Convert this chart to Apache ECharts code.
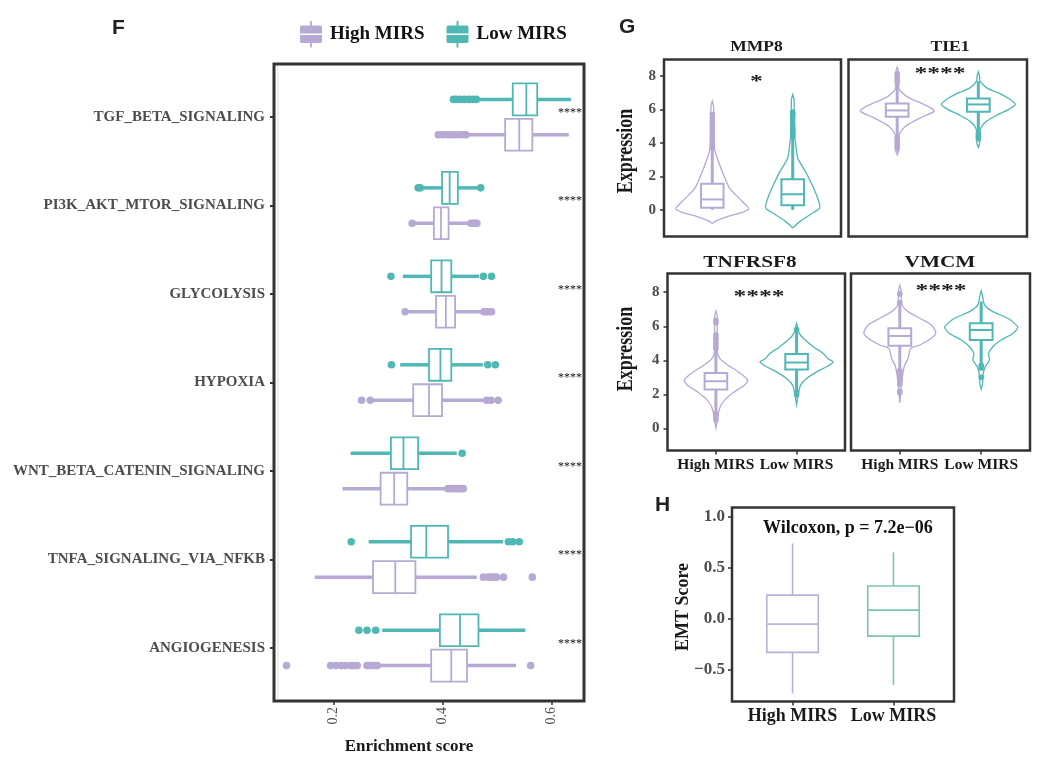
<!DOCTYPE html>
<html><head><meta charset="utf-8">
<script src="https://cdn.jsdelivr.net/npm/echarts@6/dist/echarts.min.js"></script>
<style>html,body{margin:0;padding:0;background:#fff}#c{width:1046px;height:762px}</style>
</head><body><div id="c"></div>
<script>
// ================= DATA =================
const groups = ['High MIRS', 'Low MIRS'];

// ---- Panel F ----
const fCategories = ['TGF_BETA_SIGNALING', 'PI3K_AKT_MTOR_SIGNALING', 'GLYCOLYSIS', 'HYPOXIA',
  'WNT_BETA_CATENIN_SIGNALING', 'TNFA_SIGNALING_VIA_NFKB', 'ANGIOGENESIS'];
const fXTicks = [0.2, 0.4, 0.6];
// [lower whisker, Q1, median, Q3, upper whisker], categories top to bottom
const fLowStats = [
  [0.466, 0.529, 0.554, 0.574, 0.636],
  [0.362, 0.399, 0.413, 0.428, 0.465],
  [0.327, 0.379, 0.398, 0.416, 0.467],
  [0.322, 0.375, 0.396, 0.416, 0.474],
  [0.231, 0.305, 0.328, 0.355, 0.426],
  [0.264, 0.342, 0.370, 0.410, 0.511],
  [0.289, 0.395, 0.432, 0.466, 0.552]
];
const fHighStats = [
  [0.445, 0.515, 0.541, 0.565, 0.632],
  [0.347, 0.384, 0.397, 0.411, 0.451],
  [0.334, 0.388, 0.406, 0.423, 0.475],
  [0.267, 0.346, 0.375, 0.399, 0.475],
  [0.216, 0.286, 0.311, 0.335, 0.408],
  [0.165, 0.272, 0.313, 0.350, 0.463],
  [0.283, 0.379, 0.416, 0.445, 0.535]
];
const fLowOutliers = [
  [0.420, 0.425, 0.432, 0.440, 0.448, 0.455, 0.462],
  [0.355, 0.359, 0.470],
  [0.305, 0.475, 0.490],
  [0.306, 0.483, 0.497],
  [0.436],
  [0.232, 0.521, 0.529, 0.541],
  [0.246, 0.261, 0.277]
];
const fHighOutliers = [
  [0.392, 0.400, 0.408, 0.415, 0.422, 0.430, 0.437, 0.443],
  [0.344, 0.452, 0.456, 0.460, 0.463],
  [0.331, 0.476, 0.480, 0.485, 0.490],
  [0.251, 0.267, 0.481, 0.489, 0.502],
  [0.410, 0.416, 0.422, 0.428, 0.433, 0.438],
  [0.475, 0.484, 0.490, 0.496, 0.499, 0.512, 0.565],
  [0.113, 0.194, 0.204, 0.214, 0.221, 0.231, 0.236, 0.243, 0.261, 0.267, 0.273, 0.280, 0.562]
];
const fSignif = ['****', '****', '****', '****', '****', '****', '****'];

// ---- Panel G ----
const gGenes = ['MMP8', 'TIE1', 'TNFRSF8', 'VMCM'];
const gYTicks = [0, 2, 4, 6, 8];
const gSignif = ['*', '****', '****', '****'];
// violin outlines: [expression, half width in group units]
const mmp8ViolinHigh = [[6.5,0],[6.2,0.016],[4.0,0.018],[3.5,0.035],[2.7,0.091],[1.9,0.157],[1.3,0.215],[0.7,0.331],[0.3,0.414],[0.08,0.455],[-0.12,0.393],[-0.38,0.207],[-0.68,0.041],[-0.82,0]];
const mmp8ViolinLow = [[6.9,0],[6.6,0.016],[4.5,0.02],[4.1,0.033],[3.1,0.062],[2.3,0.157],[1.5,0.24],[0.9,0.294],[0.3,0.335],[0.08,0.331],[-0.28,0.219],[-0.68,0.095],[-1.08,0]];
const tie1ViolinHigh = [[8.54,0],[8.3,0.016],[7.3,0.02],[7.1,0.041],[6.7,0.145],[6.4,0.29],[6.1,0.414],[5.9,0.455],[5.6,0.331],[5.31,0.207],[5.0,0.103],[4.6,0.033],[4.2,0.018],[3.5,0.016],[3.3,0]];
const tie1ViolinLow = [[8.26,0],[8.0,0.016],[7.7,0.021],[7.3,0.103],[6.9,0.29],[6.6,0.393],[6.31,0.455],[6.0,0.372],[5.71,0.248],[5.31,0.103],[4.91,0.033],[4.5,0.018],[3.95,0.016],[3.75,0]];
const tnfrsf8ViolinHigh = [[6.9,0],[6.6,0.016],[4.5,0.018],[4.1,0.05],[3.72,0.145],[3.42,0.248],[3.13,0.331],[2.83,0.393],[2.54,0.352],[2.14,0.227],[1.75,0.124],[1.36,0.062],[0.96,0.033],[0.5,0.018],[0.02,0]];
const tnfrsf8ViolinLow = [[6.17,0],[5.9,0.016],[5.58,0.033],[5.29,0.083],[4.8,0.207],[4.4,0.331],[4.07,0.393],[3.91,0.455],[3.62,0.372],[3.32,0.248],[2.93,0.124],[2.54,0.05],[2.0,0.02],[1.39,0]];
const vmcmViolinHigh = [[8.4,0],[8.1,0.016],[7.26,0.025],[6.86,0.102],[6.47,0.245],[6.08,0.389],[5.62,0.442],[5.29,0.389],[4.9,0.245],[4.7,0.135],[4.1,0.1],[3.72,0.06],[3.32,0.04],[2.5,0.018],[1.49,0]];
const vmcmViolinLow = [[8.08,0],[7.8,0.016],[7.26,0.041],[6.86,0.143],[6.47,0.327],[6.08,0.429],[5.92,0.45],[5.58,0.389],[5.19,0.245],[4.8,0.143],[4.4,0.09],[4.01,0.102],[3.62,0.049],[3.22,0.025],[2.6,0.016],[2.3,0]];
// box stats per gene: [lower whisker, Q1, median, Q3, upper whisker]
const gBoxHigh = [
  [0.0, 0.12, 0.62, 1.56, 3.6],
  [4.41, 5.57, 5.95, 6.37, 7.5],
  [0.95, 2.28, 2.77, 3.26, 4.6],
  [3.52, 4.86, 5.43, 5.88, 7.35]
];
const gBoxLow = [
  [0.0, 0.27, 0.93, 1.83, 4.3],
  [4.71, 5.87, 6.31, 6.66, 7.7],
  [2.24, 3.46, 3.87, 4.37, 5.68],
  [3.81, 5.19, 5.78, 6.17, 7.45]
];
const gOutHigh = [
  [3.7, 3.85, 4.0, 4.15, 4.3, 4.5, 4.7, 4.9, 5.1, 5.3, 5.5, 5.7],
  [7.6, 7.8, 8.0, 8.15, 4.3, 4.1, 3.95, 3.8, 3.65],
  [4.7, 4.85, 5.0, 5.2, 5.35, 5.5, 6.2, 6.35, 0.85, 0.7, 0.5],
  [7.4, 7.9, 3.4, 3.25, 3.1, 3.0, 2.9, 2.75, 2.6, 2.2, 2.1]
];
const gOutLow = [
  [4.4, 4.5, 4.6, 4.7, 4.8, 4.9, 5.0, 5.2, 5.4, 5.6, 5.75, 5.85],
  [4.55, 4.4, 4.25],
  [5.8, 2.1, 1.98],
  [3.7, 3.55, 3.0]
];

// ---- Panel H ----
const hStats = [
  [-0.731, -0.329, -0.052, 0.232, 0.739],
  [-0.647, -0.170, 0.085, 0.321, 0.651]
];
const hYTicks = [-0.5, 0, 0.5, 1.0];
const hTest = 'Wilcoxon, p = 7.2e\u221206';

// ================= STYLE =================
const PURPLE = '#B6A9D4', TEAL = '#4FB8B5', H_HIGH = '#B9B1DA', H_LOW = '#7CC6A7';
const FRAME = '#333333';
const SERIF = '"Liberation Serif", "Times New Roman", serif';
const SANS = '"Liberation Sans", Arial, sans-serif';

const gViolins = [
  [mmp8ViolinHigh, mmp8ViolinLow],
  [tie1ViolinHigh, tie1ViolinLow],
  [tnfrsf8ViolinHigh, tnfrsf8ViolinLow],
  [vmcmViolinHigh, vmcmViolinLow]
];

const grids = [], xAxes = [], yAxes = [], series = [];
function addGrid(g, x, y) {
  grids.push(Object.assign({show: true, borderColor: FRAME, borderWidth: 2.5,
    backgroundColor: 'rgba(0,0,0,0)', containLabel: false, outerBoundsMode: 'none'}, g));
  xAxes.push(Object.assign({gridIndex: grids.length - 1, position: 'bottom', splitLine: {show: false}}, x));
  yAxes.push(Object.assign({gridIndex: grids.length - 1, position: 'left', splitLine: {show: false}}, y));
  return grids.length - 1;
}
const NO_LINE = {show: false, onZero: false};

// ---------- Panel F ----------
const nCat = fCategories.length;
const fCatValues = fCategories.map((c, i) => nCat - i);
const F_OFF = 0.2, F_HALF = 0.18;
const fIdx = addGrid(
  {left: 274, top: 64, width: 310, height: 637, borderWidth: 3},
  {type: 'value', min: 0.09, max: 0.66, axisLine: NO_LINE,
    axisTick: {show: true, customValues: fXTicks, length: 4, lineStyle: {color: FRAME, width: 1.5}},
    axisLabel: {customValues: fXTicks, rotate: 90, formatter: v => Number(v).toFixed(1),
      color: '#4d4d4d', fontFamily: SERIF, fontSize: 14, margin: 6}},
  {type: 'value', min: 0.4, max: nCat + 0.6, axisLine: NO_LINE,
    axisTick: {show: true, customValues: fCatValues, length: 4, lineStyle: {color: FRAME, width: 2}},
    axisLabel: {customValues: fCatValues, formatter: v => fCategories[nCat - Math.round(v)],
      color: '#4d4d4d', fontFamily: SERIF, fontWeight: 'bold', fontSize: 15, margin: 9}}
);

function fBoxSeries(name, stats, offset, color) {
  return {
    type: 'custom', name, xAxisIndex: fIdx, yAxisIndex: fIdx, itemStyle: {color},
    data: stats.map((s, i) => [nCat - i].concat(s)),
    encode: {x: [1, 2, 3, 4, 5], y: 0},
    renderItem(params, api) {
      const y = api.value(0) + offset;
      const v = [1, 2, 3, 4, 5].map(d => api.value(d));
      const p = v.map(x => api.coord([x, y]));
      const top = api.coord([v[1], y + F_HALF])[1];
      const bot = api.coord([v[1], y - F_HALF])[1];
      const cy = p[0][1];
      return {type: 'group', children: [
        {type: 'line', shape: {x1: p[0][0], y1: cy, x2: p[1][0], y2: cy}, style: {stroke: color, lineWidth: 3.5}},
        {type: 'line', shape: {x1: p[3][0], y1: cy, x2: p[4][0], y2: cy}, style: {stroke: color, lineWidth: 3.5}},
        {type: 'rect', shape: {x: p[1][0], y: top, width: p[3][0] - p[1][0], height: bot - top},
          style: {fill: '#fff', stroke: color, lineWidth: 1.8}},
        {type: 'line', shape: {x1: p[2][0], y1: top, x2: p[2][0], y2: bot}, style: {stroke: color, lineWidth: 1.8}}
      ]};
    }
  };
}
function fOutSeries(name, outs, offset, color) {
  const data = [];
  outs.forEach((arr, i) => arr.forEach(v => data.push([v, nCat - i])));
  return {
    type: 'custom', name, xAxisIndex: fIdx, yAxisIndex: fIdx, itemStyle: {color},
    data, encode: {x: 0, y: 1},
    renderItem(params, api) {
      const p = api.coord([api.value(0), api.value(1) + offset]);
      return {type: 'circle', shape: {cx: p[0], cy: p[1], r: 3.8}, style: {fill: color}};
    }
  };
}
series.push(fBoxSeries(groups[1], fLowStats, F_OFF, TEAL));
series.push(fBoxSeries(groups[0], fHighStats, -F_OFF, PURPLE));
series.push(fOutSeries(groups[1], fLowOutliers, F_OFF, TEAL));
series.push(fOutSeries(groups[0], fHighOutliers, -F_OFF, PURPLE));
series.push({
  type: 'custom', name: 'signif', xAxisIndex: fIdx, yAxisIndex: fIdx,
  data: fSignif.map((s, i) => [0.612, nCat - i]), encode: {x: 0, y: 1},
  renderItem(params, api) {
    const p = api.coord([api.value(0), api.value(1) + 0.05]);
    return {type: 'text', x: p[0], y: p[1], style: {text: fSignif[params.dataIndex],
      font: '12px ' + SERIF, fill: '#111', align: 'left', verticalAlign: 'middle'}};
  }
});

// ---------- Panel G ----------
const gLayout = [
  {grid: {left: 664, top: 59.5, width: 177, height: 177}, yMin: -1.6, yMax: 9.0, yShow: true, xShow: false},
  {grid: {left: 848.5, top: 59.5, width: 178.5, height: 177}, yMin: -1.6, yMax: 9.0, yShow: false, xShow: false},
  {grid: {left: 667.5, top: 273.5, width: 177.5, height: 177}, yMin: -1.3, yMax: 9.1, yShow: true, xShow: true},
  {grid: {left: 851, top: 273.5, width: 179, height: 177}, yMin: -1.3, yMax: 9.1, yShow: false, xShow: true}
];
const G_BOX_HALF = 0.14;
const grpPos = [1, 2];
gLayout.forEach((L, gi) => {
  const idx = addGrid(L.grid,
    {type: 'value', min: 0.4, max: 2.6, show: L.xShow, axisLine: NO_LINE,
      axisTick: {show: true, customValues: grpPos, length: 4, lineStyle: {color: FRAME, width: 1.5}},
      axisLabel: {customValues: grpPos, formatter: v => groups[Math.round(v) - 1], color: '#1a1a1a',
        fontFamily: SERIF, fontWeight: 'bold', fontSize: 15.5, margin: 6}},
    {type: 'value', min: L.yMin, max: L.yMax, show: L.yShow, axisLine: NO_LINE,
      axisTick: {show: true, customValues: gYTicks, length: 4, lineStyle: {color: FRAME, width: 1.5}},
      axisLabel: {customValues: gYTicks, color: '#4d4d4d', fontFamily: SERIF, fontWeight: 'bold',
        fontSize: 15, margin: 8}}
  );
  [[gBoxHigh, gOutHigh, PURPLE], [gBoxLow, gOutLow, TEAL]].forEach((cfg, k) => {
    const stats = cfg[0][gi], outs = cfg[1][gi], color = cfg[2], violin = gViolins[gi][k];
    series.push({
      type: 'custom', name: gGenes[gi] + ' ' + groups[k], xAxisIndex: idx, yAxisIndex: idx,
      itemStyle: {color}, data: [[grpPos[k]].concat(stats)], encode: {x: 0, y: [1, 2, 3, 4, 5]},
      renderItem(params, api) {
        const x = api.value(0);
        const v = [1, 2, 3, 4, 5].map(d => api.value(d));
        const left = violin.map(([y, w]) => api.coord([x - w, y]));
        const right = violin.slice().reverse().map(([y, w]) => api.coord([x + w, y]));
        const pts = left.concat(right);
        const cx = api.coord([x, 0])[0];
        const xl = api.coord([x - G_BOX_HALF, 0])[0], xr = api.coord([x + G_BOX_HALF, 0])[0];
        const py = v.map(val => api.coord([x, val])[1]);
        const children = [
          {type: 'polygon', shape: {points: pts, smooth: 0.25}, style: {fill: 'none', stroke: color, lineWidth: 1.3}},
          {type: 'line', shape: {x1: cx, y1: py[0], x2: cx, y2: py[1]}, style: {stroke: color, lineWidth: 3}},
          {type: 'line', shape: {x1: cx, y1: py[3], x2: cx, y2: py[4]}, style: {stroke: color, lineWidth: 3}},
          {type: 'rect', shape: {x: xl, y: py[3], width: xr - xl, height: py[1] - py[3]},
            style: {fill: '#fff', stroke: color, lineWidth: 2}},
          {type: 'line', shape: {x1: xl, y1: py[2], x2: xr, y2: py[2]}, style: {stroke: color, lineWidth: 2}}
        ];
        outs.forEach(o => {
          const p = api.coord([x, o]);
          children.push({type: 'circle', shape: {cx: p[0], cy: p[1], r: 2.8}, style: {fill: color}});
        });
        return {type: 'group', children};
      }
    });
  });
});

// ---------- Panel H ----------
const H_BOX_HALF = 0.255;
const hIdx = addGrid(
  {left: 732, top: 507.5, width: 222, height: 194},
  {type: 'value', min: 0.4, max: 2.6, axisLine: NO_LINE,
    axisTick: {show: true, customValues: grpPos, length: 4, lineStyle: {color: FRAME, width: 1.5}},
    axisLabel: {customValues: grpPos, formatter: v => groups[Math.round(v) - 1], color: '#1a1a1a',
      fontFamily: SERIF, fontWeight: 'bold', fontSize: 18, margin: 6}},
  {type: 'value', min: -0.81, max: 1.09, axisLine: NO_LINE,
    axisTick: {show: true, customValues: hYTicks, length: 4, lineStyle: {color: FRAME, width: 1.5}},
    axisLabel: {customValues: hYTicks, formatter: v => (v < 0 ? '\u2212' : '') + Math.abs(v).toFixed(1),
      color: '#4d4d4d', fontFamily: SERIF, fontWeight: 'bold', fontSize: 17, margin: 7}}
);
[H_HIGH, H_LOW].forEach((color, k) => {
  series.push({
    type: 'custom', name: 'EMT ' + groups[k], xAxisIndex: hIdx, yAxisIndex: hIdx, itemStyle: {color},
    data: [[grpPos[k]].concat(hStats[k])], encode: {x: 0, y: [1, 2, 3, 4, 5]},
    renderItem(params, api) {
      const x = api.value(0);
      const v = [1, 2, 3, 4, 5].map(d => api.value(d));
      const cx = api.coord([x, 0])[0];
      const xl = api.coord([x - H_BOX_HALF, 0])[0], xr = api.coord([x + H_BOX_HALF, 0])[0];
      const py = v.map(val => api.coord([x, val])[1]);
      return {type: 'group', children: [
        {type: 'line', shape: {x1: cx, y1: py[0], x2: cx, y2: py[1]}, style: {stroke: color, lineWidth: 1.6}},
        {type: 'line', shape: {x1: cx, y1: py[3], x2: cx, y2: py[4]}, style: {stroke: color, lineWidth: 1.6}},
        {type: 'rect', shape: {x: xl, y: py[3], width: xr - xl, height: py[1] - py[3]},
          style: {fill: '#fff', stroke: color, lineWidth: 1.6}},
        {type: 'line', shape: {x1: xl, y1: py[2], x2: xr, y2: py[2]}, style: {stroke: color, lineWidth: 1.6}}
      ]};
    }
  });
});

// ---------- Text annotations ----------
function txt(text, x, y, font, opts) {
  return Object.assign({type: 'text', x, y, z: 100,
    style: {text, font, fill: '#1a1a1a', align: 'center', verticalAlign: 'middle'}}, opts || {});
}
function ltxt(text, x, y, font, fill) {
  return {type: 'text', x, y, z: 100, style: {text, font, fill, align: 'left', verticalAlign: 'middle'}};
}
const graphic = [
  {type: 'line', z: 1, shape: {x1: 278, y1: 66, x2: 278, y2: 699}, style: {stroke: '#e8e8e8', lineWidth: 1.5}},
  ltxt('F', 112, 28, 'bold 21px ' + SANS, '#231f20'),
  ltxt('G', 619, 27, 'bold 21px ' + SANS, '#231f20'),
  ltxt('H', 655, 505, 'bold 21px ' + SANS, '#231f20'),
  txt('Enrichment score', 409, 747, 'bold 17px ' + SERIF),
  txt(gGenes[0], 756.5, 47, 'bold 14px ' + SERIF, {scaleX: 1.25}),
  txt(gGenes[1], 950, 47, 'bold 14px ' + SERIF, {scaleX: 1.25}),
  txt(gGenes[2], 750, 263, 'bold 17px ' + SERIF, {scaleX: 1.25}),
  txt(gGenes[3], 940, 263, 'bold 17px ' + SERIF, {scaleX: 1.25}),
  txt('Expression', 626, 151, 'bold 18px ' + SERIF, {rotation: Math.PI / 2, scaleY: 1.3}),
  txt('Expression', 626, 349, 'bold 18px ' + SERIF, {rotation: Math.PI / 2, scaleY: 1.3}),
  txt('EMT Score', 683, 607, 'bold 18px ' + SERIF, {rotation: Math.PI / 2}),
  txt(gSignif[0], 756.5, 82, 'bold 16px ' + SERIF, {scaleX: 1.6}),
  txt(gSignif[1], 940, 74, 'bold 16px ' + SERIF, {scaleX: 1.6}),
  txt(gSignif[2], 759, 297, 'bold 16px ' + SERIF, {scaleX: 1.6}),
  txt(gSignif[3], 941, 291, 'bold 16px ' + SERIF, {scaleX: 1.6}),
  ltxt(hTest, 763, 528, 'bold 18px ' + SERIF, '#111')
];

const LEG_ICON = 'path://M2,5 H22 Q24,5 24,7 V13.6 H0 V7 Q0,5 2,5 Z M0,15.4 H24 V22 Q24,24 22,24 H2 Q0,24 0,22 Z M11,0 H13 V5 H11 Z M11,24 H13 V29 H11 Z';

const chart = echarts.init(document.getElementById('c'), null, {renderer: 'canvas'});
chart.setOption({
  animation: false,
  backgroundColor: '#ffffff',
  legend: {
    data: [groups[0], groups[1]], left: 300, top: 21, padding: 0, itemWidth: 22, itemHeight: 27, itemGap: 22,
    icon: LEG_ICON, selectedMode: false,
    textStyle: {fontFamily: SERIF, fontWeight: 'bold', fontSize: 19, color: '#111', padding: [0, 0, 0, 3]}
  },
  grid: grids, xAxis: xAxes, yAxis: yAxes, series, graphic
});
</script></body></html>
